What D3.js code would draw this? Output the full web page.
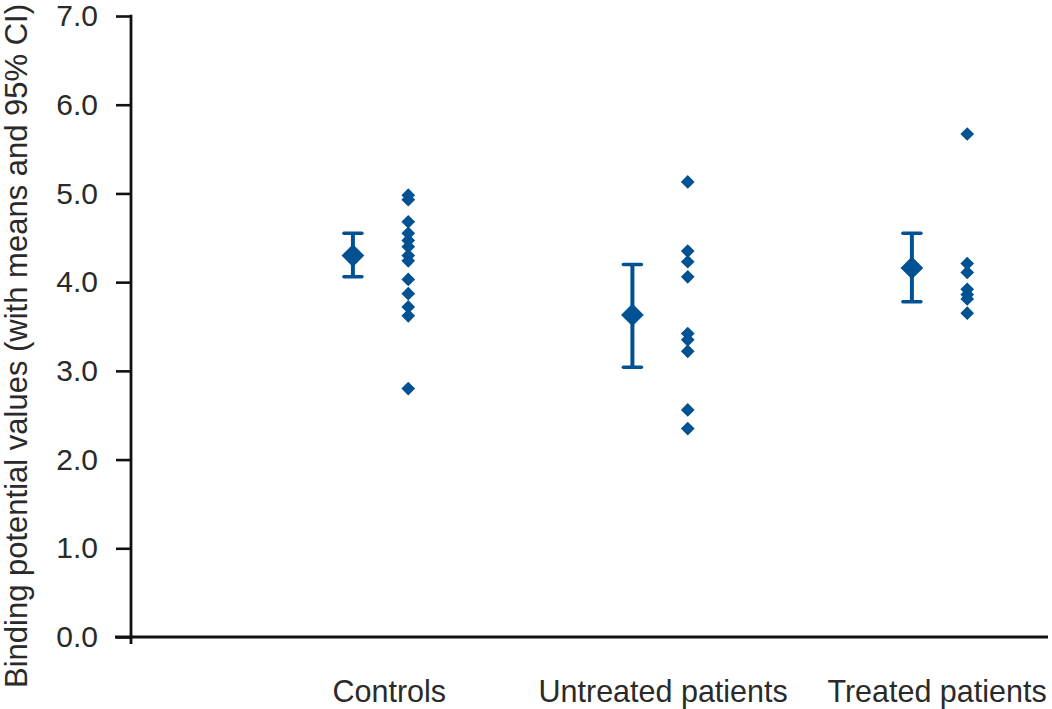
<!DOCTYPE html>
<html>
<head>
<meta charset="utf-8">
<script src="https://cdn.jsdelivr.net/npm/d3@7"></script>
<style>
  html, body { margin: 0; padding: 0; background: #fff; }
  svg { display: block; }
  text { font-family: "Liberation Sans", Arial, sans-serif; fill: #2a2a2a; }
</style>
</head>
<body>
<svg id="chart" width="1052" height="709"></svg>
<script>
// ---- Data ----
const categories = ["Controls", "Untreated patients", "Treated patients"];
const controlsValues = [4.98, 4.93, 4.68, 4.55, 4.47, 4.40, 4.30, 4.24, 4.03, 3.87, 3.72, 3.62, 2.80];
const untreatedValues = [5.13, 4.35, 4.23, 4.06, 3.42, 3.35, 3.22, 2.56, 2.35];
const treatedValues = [5.67, 4.21, 4.11, 3.92, 3.86, 3.81, 3.65];
const groupMeans = [4.30, 3.63, 4.16];
const ciLower = [4.06, 3.04, 3.78];
const ciUpper = [4.55, 4.20, 4.55];
const yTicks = [0, 1, 2, 3, 4, 5, 6, 7];
const yTitle = "Binding potential values (with means and 95% CI)";

const groups = [controlsValues, untreatedValues, treatedValues];
const color = "#005293";

const svg = d3.select("#chart");

// ---- Scales ----
const x = d3.scaleLinear().domain([-0.794, 2.487]).range([131, 1048]);
const y = d3.scaleLinear().domain([0, 7]).range([637, 16]);

const meanOffset = 0;
const pointOffset = 0.198;
const labelOffset = i => 0.13 - 0.02 * i;

// ---- Y axis ----
const yAxis = d3.axisLeft(y)
  .tickValues(yTicks)
  .tickFormat(d3.format(".1f"))
  .tickSize(15)
  .tickSizeOuter(0)
  .tickPadding(18);

const gy = svg.append("g").attr("transform", "translate(131,0)").call(yAxis);
gy.select(".domain").remove();
gy.selectAll(".tick line").attr("stroke", "#111").attr("stroke-width", 2.6);
gy.selectAll(".tick text")
  .style("font-family", "'Liberation Sans', Arial, sans-serif")
  .style("font-size", "30px")
  .attr("fill", "#2a2a2a");

// y axis line (extends slightly below x axis)
svg.append("line")
  .attr("x1", 131).attr("x2", 131)
  .attr("y1", y(7) - 1.3).attr("y2", y(0) + 7)
  .attr("stroke", "#111").attr("stroke-width", 2.8);

// x axis line
svg.append("line")
  .attr("x1", 115).attr("x2", x.range()[1])
  .attr("y1", y(0)).attr("y2", y(0))
  .attr("stroke", "#111").attr("stroke-width", 2.8);

// category labels
svg.selectAll("text.cat")
  .data(categories)
  .enter().append("text")
  .attr("class", "cat")
  .attr("x", (d, i) => x(i + labelOffset(i)))
  .attr("y", 702)
  .attr("text-anchor", "middle")
  .style("font-size", "30.5px")
  .text(d => d);

// y title
svg.append("text")
  .attr("transform", "translate(27,346) rotate(-90)")
  .attr("text-anchor", "middle")
  .style("font-size", "31px")
  .text(yTitle);

// ---- Marks ----
const smallDiamond = d3.symbol().type(d3.symbolDiamond2).size(120);
const bigDiamond = d3.symbol().type(d3.symbolDiamond2).size(330);

// individual points
groups.forEach((vals, gi) => {
  svg.append("g").selectAll("path")
    .data(vals)
    .enter().append("path")
    .attr("d", smallDiamond)
    .attr("transform", d => `translate(${x(gi + pointOffset)},${y(d)})`)
    .attr("fill", color);
});

// error bars
const eb = svg.append("g");
categories.forEach((c, gi) => {
  const cx = x(gi + meanOffset);
  eb.append("line")
    .attr("x1", cx).attr("x2", cx)
    .attr("y1", y(ciUpper[gi])).attr("y2", y(ciLower[gi]))
    .attr("stroke", color).attr("stroke-width", 4);
  [ciUpper[gi], ciLower[gi]].forEach(v => {
    eb.append("line")
      .attr("x1", cx - 9).attr("x2", cx + 9)
      .attr("y1", y(v)).attr("y2", y(v))
      .attr("stroke", color).attr("stroke-width", 3.5)
      .attr("stroke-linecap", "round");
  });
  eb.append("path")
    .attr("d", bigDiamond)
    .attr("transform", `translate(${cx},${y(groupMeans[gi])})`)
    .attr("fill", color);
});
</script>
</body>
</html>
